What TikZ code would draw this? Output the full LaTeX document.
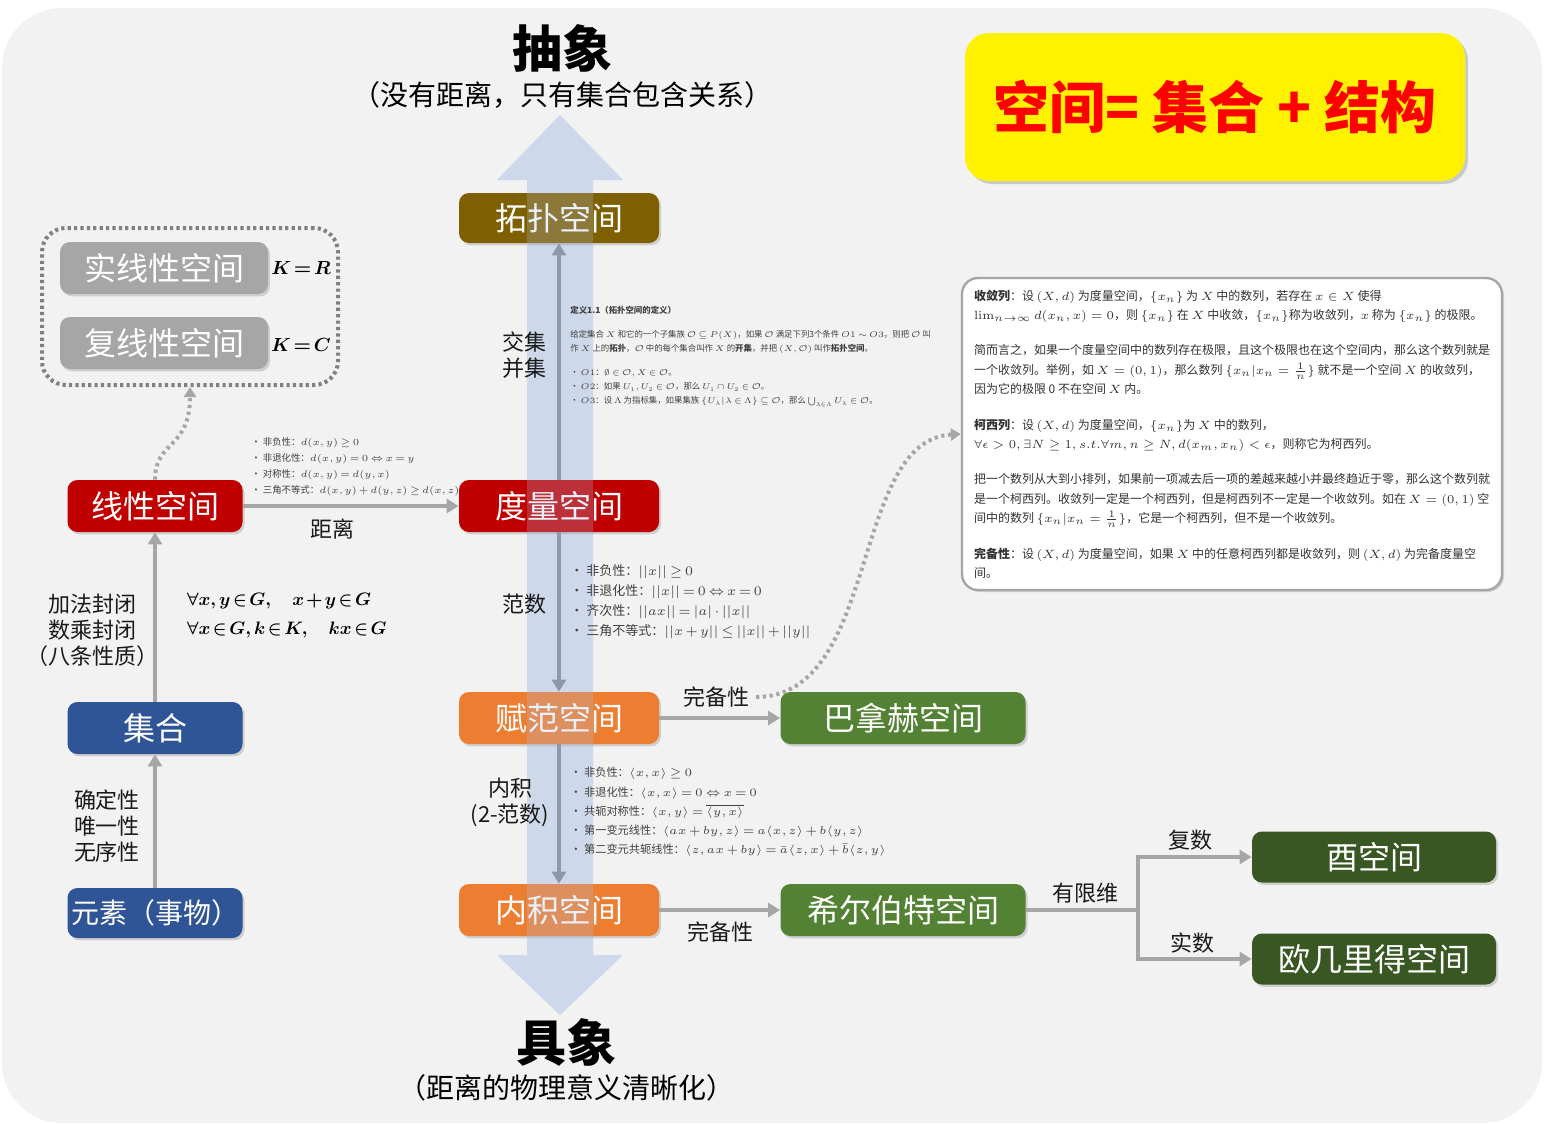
\RequirePackage{fix-cm}
\documentclass[tikz,border=0pt]{standalone}
\usepackage{amsmath,amssymb}
\usepackage{bm}
\usepackage[no-math]{fontspec}
\setmainfont{Noto Sans CJK SC}
\usepackage{tikz}
\usetikzlibrary{arrows.meta,shadows}

\definecolor{bggray}{HTML}{F2F2F2}
\definecolor{arrgray}{HTML}{A6A6A6}
\definecolor{midgray}{HTML}{8E98A8}
\definecolor{dotgray}{HTML}{808080}
\definecolor{nodegray}{HTML}{A6A6A6}
\definecolor{topobrown}{HTML}{7F6000}
\definecolor{deepred}{HTML}{C00000}
\definecolor{warmorange}{HTML}{ED7D31}
\definecolor{leafgreen}{HTML}{548235}
\definecolor{darkgreen}{HTML}{385723}
\definecolor{setblue}{HTML}{2F5597}
\definecolor{shaftbase}{HTML}{D6DEEC}
\definecolor{shafttint}{HTML}{B4C7E7}

\tikzset{
  spacebox/.style={rounded corners=5pt, minimum height=26pt, text=white,
    font=\fontsize{16}{16}\selectfont, inner sep=0pt,
    drop shadow={shadow xshift=1pt, shadow yshift=-1.2pt, opacity=0.3}},
  conn/.style={draw=arrgray, line width=2pt, -{Triangle[length=6pt,width=7pt]}},
  lbl/.style={font=\fontsize{11}{13}\selectfont, align=center, text=black!90},
  dotline/.style={draw=arrgray, line width=2pt, dash pattern=on 1.6pt off 1.8pt},
  dotbox/.style={draw=dotgray, line width=2pt, dash pattern=on 1.6pt off 1.6pt,
    rounded corners=12pt, minimum width=148pt, minimum height=78.5pt},
  props/.style={align=left, anchor=north west, inner sep=0pt, text=black!75,
    execute at begin node={\thinmuskip=2mu\medmuskip=2.5mu\thickmuskip=3mu}},
  formula/.style={font=\fontsize{9}{9}\selectfont,
    execute at begin node={\medmuskip=2mu\thickmuskip=2.5mu}}
}

\begin{document}
\begin{tikzpicture}[x=0.5pt,y=-0.5pt]
    \useasboundingbox (0,0) rectangle (1544,1125);
    \fill[bggray, rounded corners=30pt] (2,8) rectangle (1542,1123);

    % big up/down arrow (abstract <-> concrete)
    \fill[shaftbase] (560,115) -- (623,180) -- (593,180) -- (593,955) -- (623,955)
        -- (560,1015) -- (497,955) -- (527,955) -- (527,180) -- (497,180) -- cycle;

    \node[font=\fontsize{25}{25}\bfseries] (abstract) at (562,48) {抽象};
    \node[font=\fontsize{14}{14}\selectfont] (abssub) at (562,95) {（没有距离，只有集合包含关系）};
    \node[font=\fontsize{25}{25}\bfseries] (concrete) at (566,1042) {具象};
    \node[font=\fontsize{14}{14}\selectfont] (consub) at (566,1088) {（距离的物理意义清晰化）};

    % spaces
    \node[spacebox, fill=topobrown, minimum width=100pt, minimum height=25pt] (topo) at (559,218) {拓扑空间};
    \node[spacebox, fill=deepred, minimum width=100pt] (metric) at (559,506) {度量空间};
    \node[spacebox, fill=warmorange, minimum width=100pt] (normed) at (559,718) {赋范空间};
    \node[spacebox, fill=warmorange, minimum width=100pt] (inner) at (559,910) {内积空间};
    \node[spacebox, fill=leafgreen, minimum width=122.5pt] (banach) at (903,718) {巴拿赫空间};
    \node[spacebox, fill=leafgreen, minimum width=122.5pt] (hilbert) at (903,910) {希尔伯特空间};
    \node[spacebox, fill=darkgreen, minimum width=122pt, minimum height=25.5pt] (unitary) at (1374,857) {酉空间};
    \node[spacebox, fill=darkgreen, minimum width=122pt, minimum height=25.5pt] (euclid) at (1374,959) {欧几里得空间};
    \node[spacebox, fill=deepred, minimum width=87.5pt] (linear) at (155,506) {线性空间};
    \node[spacebox, fill=setblue, minimum width=87.5pt] (set) at (155,728) {集合};
    \node[spacebox, fill=setblue, minimum width=87.5pt, minimum height=25pt,
        font=\fontsize{14}{14}\selectfont] (elem) at (155,913) {元素（事物）};
    \node[spacebox, fill=nodegray, minimum width=104pt] (real) at (164,268) {实线性空间};
    \node[spacebox, fill=nodegray, minimum width=104pt] (complex) at (164,343) {复线性空间};
    \node[formula, font=\fontsize{9.5}{9.5}\selectfont] (kr) at (301,268) {$\bm{K=R}$};
    \node[formula, font=\fontsize{9.5}{9.5}\selectfont] (kc) at (301,345) {$\bm{K=C}$};
    \node[dotbox] (field) at (190,306.5) {};

    % tint of the arrow over the boxes
    \fill[shafttint, fill opacity=0.25] (560,115) -- (623,180) -- (593,180) -- (593,955) -- (623,955)
        -- (560,1015) -- (497,955) -- (527,955) -- (527,180) -- (497,180) -- cycle;

    \node[fill=yellow, rounded corners=12pt, minimum width=250pt, minimum height=74pt,
        text=red, font=\fontsize{28}{28}\bfseries,
        drop shadow={shadow xshift=1.5pt, shadow yshift=-1.5pt, opacity=0.35}] (motto) at (1215,107) {空间= 集合 + 结构};

    % connectors
    \draw[conn] (elem) -- (set);
    \draw[conn] (set) -- (linear);
    \draw[conn] (linear) -- (metric);
    \draw[conn] (normed) -- (banach);
    \draw[conn] (inner) -- (hilbert);
    \draw[conn, draw=midgray] (metric) -- (topo);
    \draw[conn, draw=midgray] (metric) -- (normed);
    \draw[conn, draw=midgray] (normed) -- (inner);
    \coordinate (fork) at (1138,910);
    \draw[conn, -] (hilbert) -- (fork);
    \draw[conn] (fork) |- (unitary);
    \draw[conn] (fork) |- (euclid);

    % labels
    \node[lbl] (lbdist) at (332,529) {距离};
    \node[lbl] (lbcomp1) at (716,697) {完备性};
    \node[lbl] (lbcomp2) at (720,932) {完备性};
    \node[lbl] (lbinter) at (524,355) {交集\\并集};
    \node[lbl] (lbnorm) at (524,604) {范数};
    \node[lbl] (lbinner) at (510,802) {内积\\(2-范数)};
    \node[lbl] (lbfin) at (1085,893) {有限维};
    \node[lbl] (lbcplx) at (1190,840) {复数};
    \node[lbl] (lbreal) at (1192,943) {实数};
    \node[lbl] (lbelem) at (107,826) {确定性\\唯一性\\无序性};
    \node[lbl] (lbset) at (92,630) {加法封闭\\数乘封闭\\（八条性质）};
    \node[formula, anchor=west] (closeadd) at (180,601) {$\bm{\forall x,y\in G,\quad x+y\in G}$};
    \node[formula, anchor=west] (closemul) at (180,630) {$\bm{\forall x\in G,k\in K,\quad kx\in G}$};

    % property lists
    \node[props, font=\fontsize{4.7}{8}\selectfont] (metricprops) at (251,437) {%
        \textbullet\ 非负性：$d(x,y)\geq 0$\\
        \textbullet\ 非退化性：$d(x,y)=0\Leftrightarrow x=y$\\
        \textbullet\ 对称性：$d(x,y)=d(y,x)$\\
        \textbullet\ 三角不等式：$d(x,y)+d(y,z)\geq d(x,z)$};
    \node[props, font=\fontsize{6.5}{10}\selectfont] (normprops) at (570,564) {%
        \textbullet\ 非负性：$||x||\geq 0$\\
        \textbullet\ 非退化性：$||x||=0\Leftrightarrow x=0$\\
        \textbullet\ 齐次性：$||ax||=|a|\cdot||x||$\\
        \textbullet\ 三角不等式：$||x+y||\leq||x||+||y||$};
    \node[props, font=\fontsize{5.6}{9.6}\selectfont] (innerprops) at (570,767) {%
        \textbullet\ 非负性：$\langle x,x\rangle\geq 0$\\
        \textbullet\ 非退化性：$\langle x,x\rangle=0\Leftrightarrow x=0$\\
        \textbullet\ 共轭对称性：$\langle x,y\rangle=\overline{\langle y,x\rangle}$\\
        \textbullet\ 第一变元线性：$\langle ax+by,z\rangle=a\langle x,z\rangle+b\langle y,z\rangle$\\
        \textbullet\ 第二变元共轭线性：$\langle z,ax+by\rangle=\bar{a}\langle z,x\rangle+\bar{b}\langle z,y\rangle$};
    \node[props, font=\fontsize{4.2}{7}\selectfont] (topodef) at (570,306) {%
        \textbf{定义1.1（拓扑空间的定义）}\\[5pt]
        给定集合 $X$ 和它的一个子集族 $\mathcal{O}\subseteq P(X)$，如果 $\mathcal{O}$ 满足下列3个条件 $O1\sim O3$，则把 $\mathcal{O}$ 叫\\
        作 $X$ 上的\textbf{拓扑}，$\mathcal{O}$ 中的每个集合叫作 $X$ 的\textbf{开集}，并把 $(X,\mathcal{O})$ 叫作\textbf{拓扑空间}。\\[5pt]
        \textbullet\ $O1$：$\emptyset\in\mathcal{O},X\in\mathcal{O}$。\\
        \textbullet\ $O2$：如果 $U_1,U_2\in\mathcal{O}$，那么 $U_1\cap U_2\in\mathcal{O}$。\\
        \textbullet\ $O3$：设 $\Lambda$ 为指标集，如果集族 $\{U_\lambda|\lambda\in\Lambda\}\subseteq\mathcal{O}$，那么 $\bigcup_{\lambda\in\Lambda}U_\lambda\in\mathcal{O}$。};

    % completeness notes
    \node[fill=white, draw=black!35, line width=1.2pt, rounded corners=8pt,
        minimum width=270pt, minimum height=156pt, align=left, inner sep=0pt,
        font=\fontsize{6}{9.7}\selectfont, text=black!80,
        drop shadow={shadow xshift=1pt, shadow yshift=-1pt, opacity=0.3}] (cauchy) at (1232,434) {%
        \textbf{收敛列}：设 $(X,d)$ 为度量空间，$\{x_n\}$ 为 $X$ 中的数列，若存在 $x\in X$ 使得\\
        $\lim_{n\to\infty}d(x_n,x)=0$，则 $\{x_n\}$ 在 $X$ 中收敛，$\{x_n\}$称为收敛列，$x$ 称为 $\{x_n\}$ 的极限。\\[8pt]
        简而言之，如果一个度量空间中的数列存在极限，且这个极限也在这个空间内，那么这个数列就是\\
        一个收敛列。举例，如 $X=(0,1)$，那么数列 $\{x_n|x_n=\frac{1}{n}\}$ 就不是一个空间 $X$ 的收敛列，\\
        因为它的极限 0 不在空间 $X$ 内。\\[8pt]
        \textbf{柯西列}：设 $(X,d)$ 为度量空间，$\{x_n\}$为 $X$ 中的数列，\\
        $\forall\epsilon>0,\exists N\geq 1,s.t.\forall m,n\geq N,d(x_m,x_n)<\epsilon$，则称它为柯西列。\\[8pt]
        把一个数列从大到小排列，如果前一项减去后一项的差越来越小并最终趋近于零，那么这个数列就\\
        是一个柯西列。收敛列一定是一个柯西列，但是柯西列不一定是一个收敛列。如在 $X=(0,1)$ 空\\
        间中的数列 $\{x_n|x_n=\frac{1}{n}\}$，它是一个柯西列，但不是一个收敛列。\\[8pt]
        \textbf{完备性}：设 $(X,d)$ 为度量空间，如果 $X$ 中的任意柯西列都是收敛列，则 $(X,d)$ 为完备度量空\\
        间。};

    % dotted hints
    \draw[dotline, -{Triangle[length=5pt,width=6pt]}] (linear.north) .. controls (155,440) and (190,450) .. (field.south);
    \draw[dotline, -{Triangle[length=5pt,width=6pt]}] (lbcomp1.east) .. controls (880,697) and (850,440) .. (cauchy.west);
\end{tikzpicture}
\end{document}
